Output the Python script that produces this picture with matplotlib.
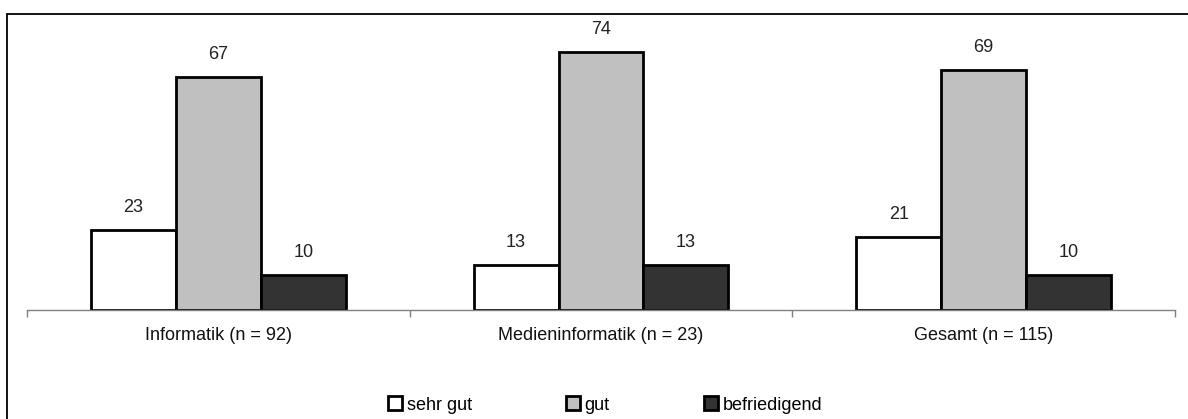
import matplotlib.pyplot as plt
import matplotlib.patches as mpatches
from matplotlib import font_manager
import numpy as np

# Daten
gruppen = ['Informatik (n = 92)', 'Medieninformatik (n = 23)', 'Gesamt (n = 115)']
sehr_gut = [23, 13, 21]
gut = [67, 74, 69]
befriedigend = [10, 13, 10]
serien = ['sehr gut', 'gut', 'befriedigend']
farben = ['#ffffff', '#c0c0c0', '#333333']

namen = {f.name for f in font_manager.fontManager.ttflist}
schrift = 'Liberation Sans Narrow' if 'Liberation Sans Narrow' in namen else 'Liberation Sans'
plt.rcParams['font.family'] = [schrift, 'DejaVu Sans']
gr = 13

fig = plt.figure(figsize=(11.88, 4.19), dpi=100)
ax = fig.add_axes([27/1188, 1-310/419, (1175-27)/1188, 275/419])

# Rahmen um das Diagramm
rahmen = mpatches.Rectangle((7/1188, -0.2), 1.2, 1.2 - 13.5/419, transform=fig.transFigure,
                            fill=False, edgecolor='black', linewidth=1.3, clip_on=False)
fig.patches.append(rahmen)

x = np.arange(len(gruppen))
w = 85/383
for i, (werte, farbe) in enumerate(zip([sehr_gut, gut, befriedigend], farben)):
    pos = x + (i - 1) * w
    ax.bar(pos, werte, width=w, color=farbe, edgecolor='black', linewidth=2, label=serien[i])
    for p, v in zip(pos, werte):
        ax.text(p, v + 4.0, str(v), ha='center', va='bottom', fontsize=gr, color='#222222')

ax.set_xlim(-0.5, 2.5)
ax.set_ylim(0, 79)
ax.set_yticks([])
for s in ['top', 'right', 'left']:
    ax.spines[s].set_visible(False)
ax.spines['bottom'].set_color('#808080')
ax.spines['bottom'].set_linewidth(1)
ax.set_xticks([-0.5, 0.5, 1.5, 2.5])
ax.set_xticklabels([])
ax.tick_params(axis='x', which='major', length=5, color='#808080', width=1)
ax.set_xticks(x, minor=True)
ax.set_xticklabels(gruppen, minor=True, fontsize=gr, color='#111111')
ax.tick_params(axis='x', which='minor', length=0, pad=12)

handles = [mpatches.Patch(facecolor=f, edgecolor='black', linewidth=2) for f in farben]
fig.legend(handles, serien, loc='center', bbox_to_anchor=(605/1188, 1-405/419), ncol=3,
           frameon=False, fontsize=gr, handlelength=0.8, handleheight=0.8,
           handletextpad=0.25, columnspacing=5.2)

fig.savefig('out.png', dpi=100)
